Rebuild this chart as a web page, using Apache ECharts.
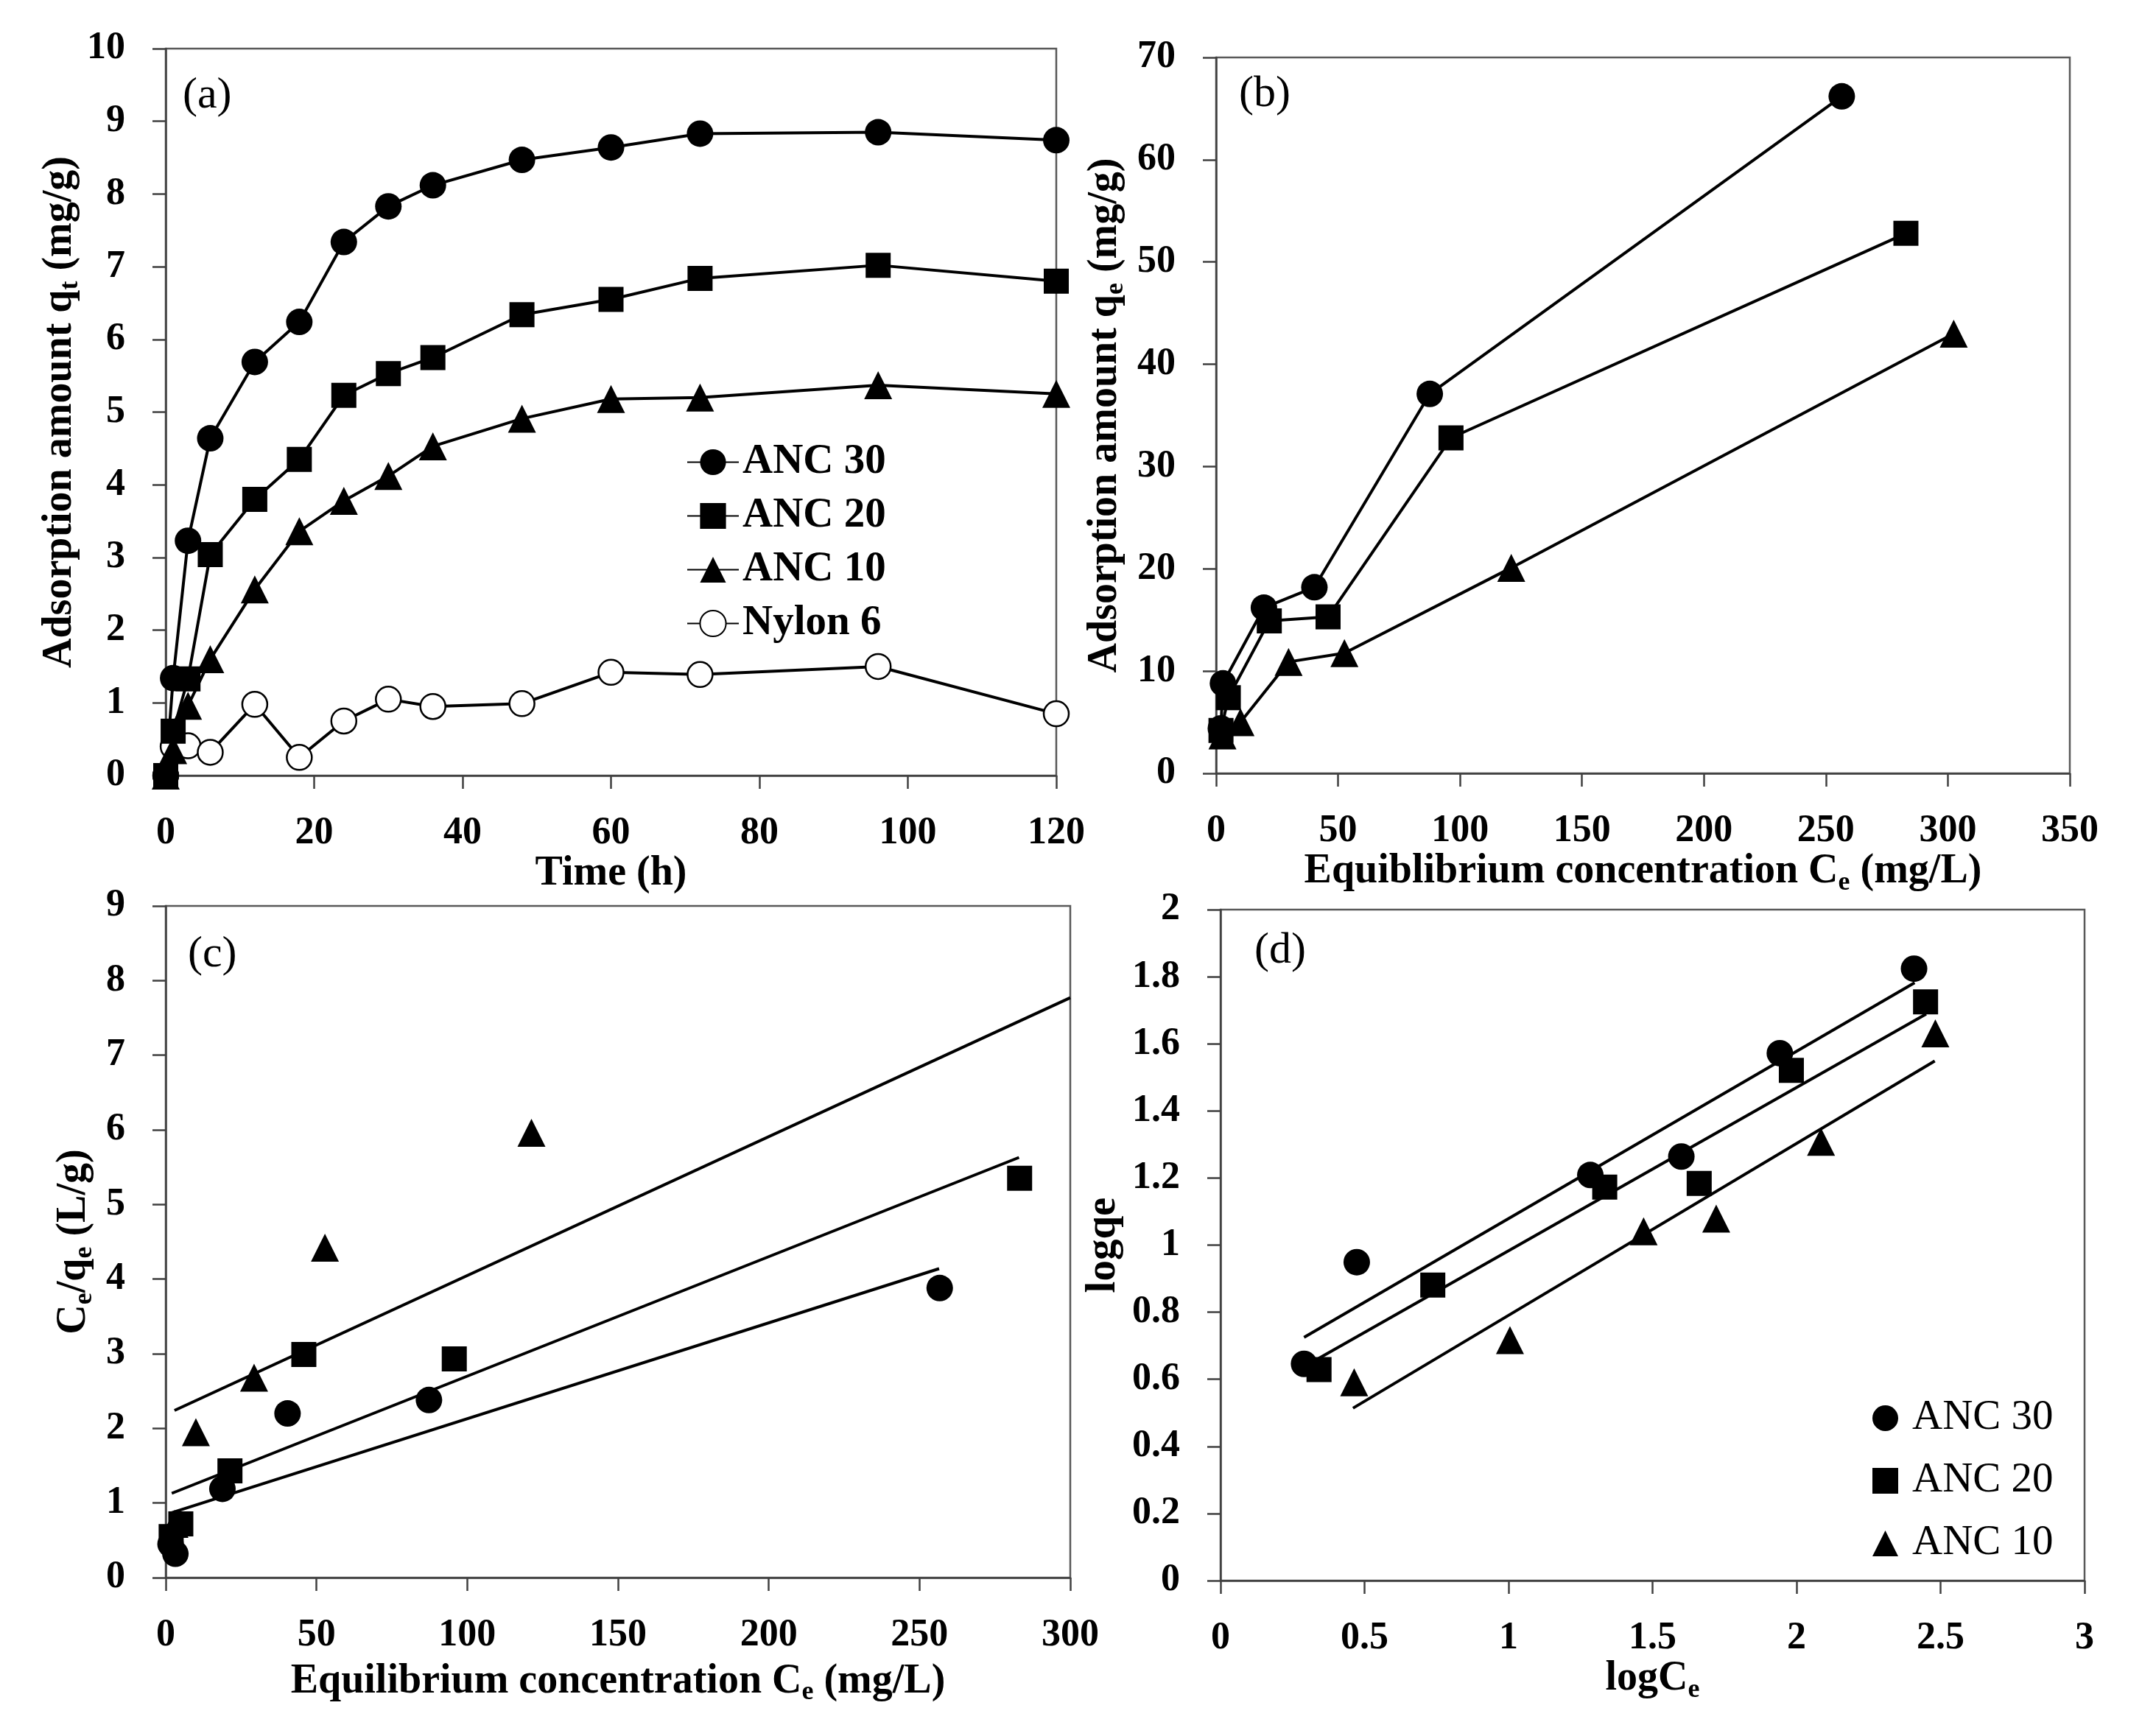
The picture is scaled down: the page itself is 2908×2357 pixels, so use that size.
<!DOCTYPE html>
<html><head><meta charset="utf-8">
<script src="https://cdn.jsdelivr.net/npm/echarts@6/dist/echarts.min.js"></script>
<style>html,body{margin:0;padding:0;background:#fff}#c{width:2908px;height:2357px}</style>
</head><body><div id="c"></div>
<script>
// ---------- Panel (a): kinetics ----------
const timeH    = [0, 1, 3, 6, 12, 18, 24, 30, 36, 48, 60, 72, 96, 120];
const a_ANC30  = [0, 1.34, 3.23, 4.64, 5.69, 6.24, 7.34, 7.83, 8.12, 8.47, 8.64, 8.83, 8.85, 8.74];
const a_ANC20  = [0, 0.61, 1.33, 3.04, 3.80, 4.35, 5.23, 5.53, 5.75, 6.34, 6.55, 6.84, 7.02, 6.80];
const a_ANC10  = [0, 0.35, 0.96, 1.60, 2.56, 3.36, 3.78, 4.12, 4.53, 4.91, 5.18, 5.20, 5.37, 5.25];
const a_Nylon6 = [0, 0.40, 0.41, 0.32, 0.98, 0.25, 0.75, 1.05, 0.95, 0.99, 1.42, 1.39, 1.50, 0.85];

// ---------- Panel (b): isotherms ----------
const b_ANC30_Ce = [1.95, 2.8, 19.6, 40.3, 87.6, 256.5];
const b_ANC30_qe = [4.4, 8.8, 16.2, 18.2, 37.1, 66.2];
const b_ANC20_Ce = [2.0, 5.0, 21.8, 45.9, 96.3, 282.8];
const b_ANC20_qe = [4.2, 7.4, 14.9, 15.3, 32.8, 52.8];
const b_ANC10_Ce = [2.6, 10.0, 29.7, 52.6, 121.0, 302.4];
const b_ANC10_qe = [3.7, 5.0, 10.9, 11.75, 20.1, 43.0];

// ---------- Panel (c): Langmuir ----------
const c_ANC30_x = [1.6, 3.2, 18.8, 40.4, 87.3, 256.7];
const c_ANC30_y = [0.45, 0.32, 1.19, 2.20, 2.38, 3.88];
const c_ANC20_x = [1.8, 5.0, 21.3, 45.8, 95.7, 283.2];
const c_ANC20_y = [0.55, 0.72, 1.43, 2.99, 2.93, 5.35];
const c_ANC10_x = [2.9, 10.0, 29.3, 52.8, 121.3];
const c_ANC10_y = [0.72, 1.95, 2.68, 4.42, 5.96];
const c_fit_ANC30 = [[1.95, 0.87], [256.5, 4.14]];
const c_fit_ANC20 = [[2.0, 1.13], [283.0, 5.63]];
const c_fit_ANC10 = [[2.9, 2.24], [300.0, 7.77]];

// ---------- Panel (d): Freundlich ----------
const d_ANC30_x = [0.29, 0.473, 1.284, 1.60, 1.942, 2.408];
const d_ANC30_y = [0.646, 0.949, 1.209, 1.264, 1.572, 1.824];
const d_ANC20_x = [0.342, 0.737, 1.334, 1.662, 1.982, 2.448];
const d_ANC20_y = [0.629, 0.881, 1.173, 1.184, 1.521, 1.725];
const d_ANC10_x = [0.464, 1.005, 1.469, 1.721, 2.085, 2.482];
const d_ANC10_y = [0.591, 0.717, 1.041, 1.079, 1.308, 1.631];
const d_fit_ANC30 = [[0.29, 0.725], [2.41, 1.782]];
const d_fit_ANC20 = [[0.34, 0.662], [2.45, 1.689]];
const d_fit_ANC10 = [[0.46, 0.514], [2.48, 1.549]];

const legendA = ['ANC 30', 'ANC 20', 'ANC 10', 'Nylon 6'];
const legendD = ['ANC 30 ', 'ANC 20 ', 'ANC 10 '];

const FONT = '"Liberation Serif", "Times New Roman", serif';
const LINE = '#404040';
const NAME_SIZE = 56, SUB_SIZE = 36, TICK_SIZE = 52;
const zip = (xs, ys) => xs.map((x, i) => [x, ys[i]]);

function axis(gridIndex, min, max, interval, name, nameGap, isY, nameSize) {
  return {
    type: 'value', gridIndex, min, max, interval,
    name, nameLocation: 'middle', nameGap, nameRotate: isY ? 90 : 0,
    nameTextStyle: {
      fontFamily: FONT, fontSize: nameSize || NAME_SIZE, fontWeight: 'bold', color: '#000',
      rich: { s: { fontFamily: FONT, fontSize: SUB_SIZE, fontWeight: 'bold', color: '#000',
                   verticalAlign: 'bottom', padding: [29, 0, 0, 0] } }
    },
    axisLine: { show: true, onZero: false, lineStyle: { color: LINE, width: 2.5 } },
    axisTick: { show: true, inside: false, length: 18, lineStyle: { color: LINE, width: 2.5 } },
    axisLabel: { show: true, margin: isY ? 55 : 53, fontFamily: FONT, fontSize: TICK_SIZE,
                 fontWeight: 'bold', color: '#000' },
    splitLine: { show: false },
    minorTick: { show: false },
    splitArea: { show: false }
  };
}

function gridBox(left, top, width, height) {
  return { left, top, width, height, show: true, borderColor: '#595959', borderWidth: 2.5,
           backgroundColor: 'transparent', containLabel: false, outerBoundsMode: 'none' };
}

const blackFill = { color: '#000', borderColor: '#000', borderWidth: 0, opacity: 1 };
const openCircle = { color: '#fff', borderColor: '#000', borderWidth: 2.5, opacity: 1 };

function lineSeries(name, xi, data, symbol, size, itemStyle) {
  return { type: 'line', name, xAxisIndex: xi, yAxisIndex: xi, data, symbol, symbolSize: size,
           showAllSymbol: true, lineStyle: { color: '#000', width: 4, opacity: 1 }, itemStyle,
           emphasis: { disabled: true }, z: 3 };
}
function scatterSeries(name, xi, data, symbol, size) {
  return { type: 'scatter', name, xAxisIndex: xi, yAxisIndex: xi, data, symbol, symbolSize: size,
           itemStyle: blackFill, emphasis: { disabled: true }, z: 4 };
}
function fitSeries(name, xi, data) {
  return { type: 'line', name, xAxisIndex: xi, yAxisIndex: xi, data, symbol: 'none',
           lineStyle: { color: '#000', width: 4, opacity: 1 }, emphasis: { disabled: true }, z: 2 };
}

const titleStyle = { fontFamily: FONT, fontSize: 60, fontWeight: 'normal', color: '#000' };

const option = {
  animation: false,
  backgroundColor: '#fff',
  title: [
    { text: '(a)', left: 248, top: 100, padding: 0, textStyle: titleStyle },
    { text: '(b)', left: 1682, top: 98, padding: 0, textStyle: titleStyle },
    { text: '(c)', left: 255, top: 1266, padding: 0, textStyle: titleStyle },
    { text: '(d)', left: 1703, top: 1261, padding: 0, textStyle: titleStyle }
  ],
  grid: [
    gridBox(225, 66, 1209, 987),
    gridBox(1651, 78, 1159, 972),
    gridBox(225, 1230, 1228, 912),
    gridBox(1657, 1235, 1173, 911)
  ],
  xAxis: [
    axis(0, 0, 120, 20, 'Time (h)', 106, false),
    axis(1, 0, 350, 50, 'Equiblibrium concentration C{s|e} (mg/L)', 91, false),
    axis(2, 0, 300, 50, 'Equilibrium concentration C{s|e} (mg/L)', 109, false),
    axis(3, 0, 3, 0.5, 'logC{s|e}', 100, false)
  ],
  yAxis: [
    axis(0, 0, 10, 1, 'Adsorption amount q{s|t} (mg/g)', 97, true),
    axis(1, 0, 70, 10, 'Adsorption amount q{s|e} (mg/g)', 118, true),
    axis(2, 0, 9, 1, 'C{s|e}/q{s|e} (L/g)', 92, true),
    axis(3, 0, 2, 0.2, 'logqe', 130, true, 57)
  ],
  legend: [
    { left: 932, top: 599, orient: 'vertical', itemWidth: 70, itemHeight: 44, itemGap: 16, padding: 0,
      selectedMode: false, data: legendA,
      textStyle: { fontFamily: FONT, fontSize: 57, fontWeight: 'bold', color: '#000' } },
    { left: 2542, top: 1897, orient: 'vertical', itemWidth: 35, itemHeight: 35, itemGap: 28, padding: 0,
      selectedMode: false, data: legendD,
      formatter: n => '{t|' + n.trim() + '}',
      textStyle: { fontFamily: FONT, fontSize: 57, color: '#000',
        rich: { t: { fontFamily: FONT, fontSize: 57, color: '#000', padding: [0, 0, 0, 14] } } } }
  ],
  series: [
    // (a)
    lineSeries('Nylon 6', 0, zip(timeH, a_Nylon6), 'circle', 34, openCircle),
    lineSeries('ANC 10', 0, zip(timeH, a_ANC10), 'triangle', 38, blackFill),
    lineSeries('ANC 30', 0, zip(timeH, a_ANC30), 'circle', 36, blackFill),
    lineSeries('ANC 20', 0, zip(timeH, a_ANC20), 'rect', 34, blackFill),
    // (b)
    lineSeries('b ANC 10', 1, zip(b_ANC10_Ce, b_ANC10_qe), 'triangle', 38, blackFill),
    lineSeries('b ANC 30', 1, zip(b_ANC30_Ce, b_ANC30_qe), 'circle', 36, blackFill),
    lineSeries('b ANC 20', 1, zip(b_ANC20_Ce, b_ANC20_qe), 'rect', 34, blackFill),
    // (c)
    fitSeries('c fit ANC 30', 2, c_fit_ANC30),
    fitSeries('c fit ANC 20', 2, c_fit_ANC20),
    fitSeries('c fit ANC 10', 2, c_fit_ANC10),
    scatterSeries('c ANC 10', 2, zip(c_ANC10_x, c_ANC10_y), 'triangle', 38),
    scatterSeries('c ANC 30', 2, zip(c_ANC30_x, c_ANC30_y), 'circle', 36),
    scatterSeries('c ANC 20', 2, zip(c_ANC20_x, c_ANC20_y), 'rect', 34),
    // (d)
    fitSeries('d fit ANC 30', 3, d_fit_ANC30),
    fitSeries('d fit ANC 20', 3, d_fit_ANC20),
    fitSeries('d fit ANC 10', 3, d_fit_ANC10),
    scatterSeries('ANC 30 ', 3, zip(d_ANC30_x, d_ANC30_y), 'circle', 36),
    scatterSeries('ANC 20 ', 3, zip(d_ANC20_x, d_ANC20_y), 'rect', 34),
    scatterSeries('ANC 10 ', 3, zip(d_ANC10_x, d_ANC10_y), 'triangle', 38)
  ]
};

const chart = echarts.init(document.getElementById('c'), null, { renderer: 'canvas' });
chart.setOption(option);
</script>
</body></html>
